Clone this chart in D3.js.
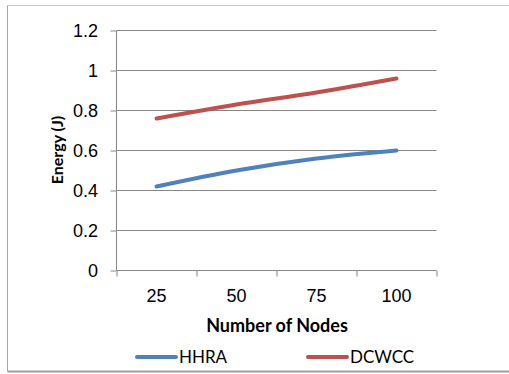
<!DOCTYPE html>
<html>
<head>
<meta charset="utf-8">
<script src="https://cdn.jsdelivr.net/npm/d3@7"></script>
<style>
  body { margin: 0; background: #fff; }
  svg { font-family: Lato, "Liberation Sans", sans-serif; }
  .axis path, .axis line { stroke: #868686; }
  .axis text { font-size: 18px; fill: #000; }
</style>
</head>
<body>
<svg id="chart" width="509" height="374"></svg>
<script>
var nodes = ['25', '50', '75', '100'];
var hhra = [0.42, 0.50, 0.56, 0.60];
var dcwcc = [0.76, 0.83, 0.89, 0.96];
var yTicks = [0, 0.2, 0.4, 0.6, 0.8, 1, 1.2];
var seriesNames = ['HHRA', 'DCWCC'];
var seriesColors = ['#4f81bd', '#c0504d'];

var svg = d3.select('svg#chart');

// frame
svg.append('line').attr('x1', 7.5).attr('y1', 5.5).attr('x2', 509).attr('y2', 5.5)
  .attr('stroke', '#c6c6c6').attr('stroke-width', 1);
svg.append('line').attr('x1', 7.5).attr('y1', 5.5).attr('x2', 7.5).attr('y2', 371.5)
  .attr('stroke', '#a6a6a6').attr('stroke-width', 1);
svg.append('line').attr('x1', 7.5).attr('y1', 371.5).attr('x2', 509).attr('y2', 371.5)
  .attr('stroke', '#a0a0a0').attr('stroke-width', 2);

var x = d3.scaleBand().domain(nodes).range([116.5, 436.5]);
var xEdge = d3.scaleLinear().domain([0, nodes.length]).range([116.5, 436.5]);
var y = d3.scaleLinear().domain([0, 1.2]).range([270.5, 30.5]);

// gridlines
svg.append('g').selectAll('line').data(yTicks.filter(d => d > 0)).enter().append('line')
  .attr('x1', 116.5).attr('x2', 436.5)
  .attr('y1', d => y(d)).attr('y2', d => y(d))
  .attr('stroke', '#868686').attr('stroke-width', 1);

// y axis
var yAxis = svg.append('g').attr('class', 'axis').attr('transform', 'translate(116.5,0)')
  .call(d3.axisLeft(y).tickValues(yTicks).tickSize(6).tickPadding(12.5)
    .tickFormat(d => d3.format('')(+d.toFixed(1))));
yAxis.select('.domain').attr('d', 'M-0,' + y(1.2) + 'V' + y(0));

// x axis: tick marks at category edges, labels at centers
var xTicksG = svg.append('g').attr('class', 'axis').attr('transform', 'translate(0,270.5)')
  .call(d3.axisBottom(xEdge).ticks(nodes.length).tickSize(6).tickFormat(''));
xTicksG.select('.domain').attr('d', 'M' + xEdge(0) + ',0H' + xEdge(nodes.length));
svg.append('g').attr('class', 'axis').attr('transform', 'translate(0,270.5)')
  .call(d3.axisBottom(x).tickSize(0).tickPadding(19))
  .select('.domain').remove();

// series lines
var line = d3.line()
  .x((d, i) => x(nodes[i]) + x.bandwidth() / 2)
  .y(d => y(d))
  .curve(d3.curveMonotoneX);

[hhra, dcwcc].forEach(function(s, k) {
  svg.append('path')
    .attr('d', line(s))
    .attr('fill', 'none')
    .attr('stroke', seriesColors[k])
    .attr('stroke-width', 4)
    .attr('stroke-linecap', 'round');
});

// axis titles
svg.append('text')
  .attr('x', 277).attr('y', 332)
  .attr('text-anchor', 'middle')
  .attr('font-size', 18).attr('font-weight', 'bold')
  .text('Number of Nodes');
svg.append('text')
  .attr('transform', 'translate(63,150) rotate(-90)')
  .attr('text-anchor', 'middle')
  .attr('font-size', 16).attr('font-weight', 'bold')
  .text('Energy (J)');

// legend
var legendX = [137, 308];
var lg = svg.selectAll('g.legend').data(seriesNames).enter().append('g')
  .attr('class', 'legend')
  .attr('transform', (d, i) => 'translate(' + legendX[i] + ',357)');
lg.append('line')
  .attr('x1', 0).attr('x2', 39).attr('y1', 0).attr('y2', 0)
  .attr('stroke', (d, i) => seriesColors[i])
  .attr('stroke-width', 4)
  .attr('stroke-linecap', 'round');
lg.append('text')
  .attr('x', 42).attr('y', 6)
  .attr('font-size', 17)
  .text(d => d);
</script>
</body>
</html>
